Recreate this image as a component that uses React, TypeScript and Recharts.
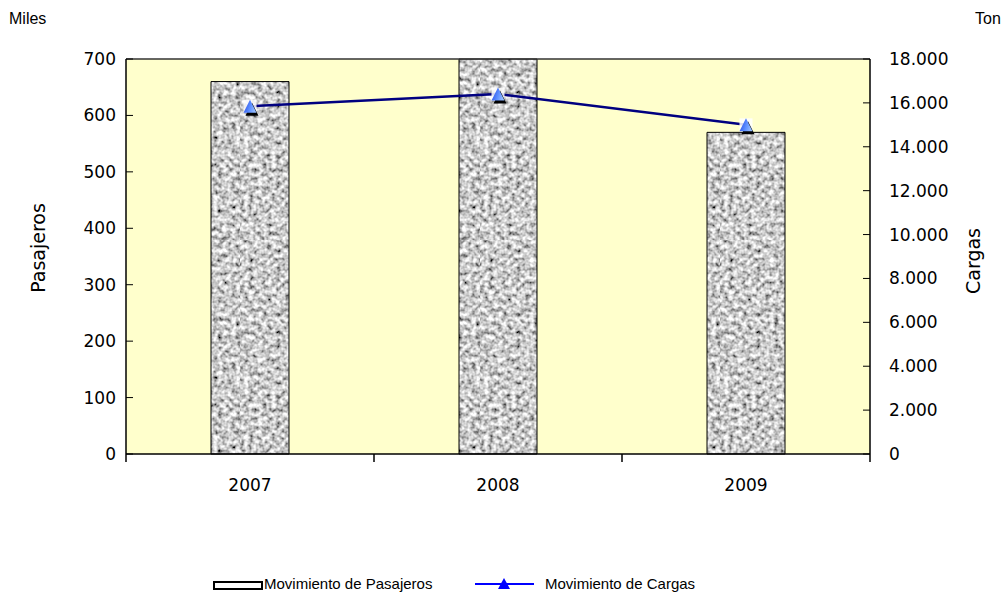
import React from 'react';
import { ComposedChart, Bar, Line, XAxis, YAxis, CartesianGrid, ReferenceLine, Legend } from 'recharts';

const years = ['2007', '2008', '2009'];
const pasajeros = [660, 700, 570];
const cargas = [15850, 16400, 15000];
const leftTicks = [0, 100, 200, 300, 400, 500, 600, 700];
const rightTicks = [0, 2000, 4000, 6000, 8000, 10000, 12000, 14000, 16000, 18000];

const data = years.map((y, i) => ({ year: y, pasajeros: pasajeros[i], cargas: cargas[i] }));

const FONT = '"DejaVu Sans", Verdana, sans-serif';
const LFONT = '"Liberation Sans", Arial, sans-serif';

const fmtThousands = (v: number) => (v === 0 ? '0' : v.toLocaleString('de-DE'));

const XTick = (props: any) => {
  const { x, y, payload, index, width, visibleTicksCount } = props;
  const n = visibleTicksCount || 3;
  const half = width ? width / (2 * n) : 124;
  return (
    <g>
      <line x1={x - half} x2={x - half} y1={y} y2={y + 8} stroke="#000" strokeWidth={1.5} />
      {index === n - 1 && <line x1={x + half} x2={x + half} y1={y} y2={y + 8} stroke="#000" strokeWidth={1.5} />}
      <text x={x} y={y + 37} textAnchor="middle" fontFamily={FONT} fontSize={17} fill="#000">
        {payload.value}
      </text>
    </g>
  );
};

const TriDot = (props: any) => {
  const { cx, cy, index } = props;
  if (cx == null || cy == null) return null;
  const s = 6.5;
  const tri = (dx: number, dy: number) =>
    `${cx + dx},${cy - s + dy} ${cx + s + dx},${cy + s + dy} ${cx - s + dx},${cy + s + dy}`;
  return (
    <g key={`dot-${index}`}>
      <rect x={cx - s} y={cy - s} width={2 * s} height={2 * s} fill="#fff" opacity={0.85} />
      <polygon points={tri(2, 3)} fill="#000" />
      <polygon points={tri(0, 0)} fill="url(#triGrad)" />
    </g>
  );
};

const LegendContent = () => (
  <div style={{ position: 'relative', width: 1004, height: 20, fontFamily: LFONT, fontSize: 15, color: '#000' }}>
    <div style={{ position: 'absolute', left: 213, top: 7, width: 46, height: 5, border: '2px solid #000', background: '#fff' }} />
    <div style={{ position: 'absolute', left: 264, top: 1, lineHeight: '18px' }}>Movimiento de Pasajeros</div>
    <svg style={{ position: 'absolute', left: 474, top: 1 }} width={62} height={18}>
      <line x1={1} x2={60} y1={9} y2={9} stroke="#0000FF" strokeWidth={2} />
      <polygon points="30,3 36,14 24,14" fill="#0000FF" />
    </svg>
    <div style={{ position: 'absolute', left: 545, top: 1, lineHeight: '18px' }}>Movimiento de Cargas</div>
  </div>
);

export default function App() {
  return (
    <div style={{ position: 'absolute', left: 0, top: 0, width: 1004, height: 593, background: '#fff' }}>
      <div style={{ position: 'absolute', left: 9, top: 10, fontFamily: LFONT, fontSize: 16 }}>Miles</div>
      <div style={{ position: 'absolute', left: 975, top: 10, fontFamily: LFONT, fontSize: 16 }}>Ton</div>
      <ComposedChart
        width={1004}
        height={593}
        data={data}
        margin={{ top: 59, right: 40, bottom: 79, left: 20 }}
        barCategoryGap={0}
      >
        <defs>
          <filter id="noiseF" x="0" y="0" width="100%" height="100%">
            <feTurbulence type="fractalNoise" baseFrequency="0.22" numOctaves="2" seed="11" result="n" />
            <feColorMatrix
              in="n"
              type="matrix"
              values="1.7 0 0 0 -0.25  1.7 0 0 0 -0.25  1.7 0 0 0 -0.25  0 0 0 0 1"
            />
          </filter>
          <pattern id="granite" patternUnits="userSpaceOnUse" width="240" height="240">
            <rect width="240" height="240" fill="#aaa" filter="url(#noiseF)" />
          </pattern>
          <linearGradient id="triGrad" x1="0" y1="0" x2="1" y2="0.3">
            <stop offset="0" stopColor="#1E3FE0" />
            <stop offset="0.6" stopColor="#5A8CFF" />
            <stop offset="1" stopColor="#8FB8FF" />
          </linearGradient>
        </defs>
        <CartesianGrid horizontal={false} vertical={false} fill="#FFFFCC" />
        <XAxis
          dataKey="year"
          xAxisId="x"
          axisLine={{ stroke: '#000', strokeWidth: 1.5 }}
          tickLine={false}
          tickSize={0}
          tickMargin={0}
          tick={<XTick />}
          interval={0}
          height={40}
        />
        <YAxis
          yAxisId="left"
          domain={[0, 700]}
          ticks={leftTicks}
          width={106}
          axisLine={{ stroke: '#000', strokeWidth: 1.5 }}
          tickLine={{ stroke: '#000', strokeWidth: 1 }}
          tickSize={-7}
          tickMargin={17}
          tick={{ fontFamily: FONT, fontSize: 17, fill: '#000' }}
          interval={0}
          label={{
            content: () => (
              <text x={38} y={248} transform="rotate(-90, 38, 248)" textAnchor="middle" dominantBaseline="central" fontFamily={FONT} fontSize={19} fill="#000">
                Pasajeros
              </text>
            ),
          }}
        />
        <YAxis
          yAxisId="right"
          orientation="right"
          domain={[0, 18000]}
          ticks={rightTicks}
          width={94}
          axisLine={{ stroke: '#000', strokeWidth: 1.5 }}
          tickLine={{ stroke: '#000', strokeWidth: 1 }}
          tickSize={-7}
          tickMargin={26}
          tickFormatter={fmtThousands}
          tick={{ fontFamily: FONT, fontSize: 17, fill: '#000' }}
          interval={0}
          label={{
            content: () => (
              <text x={973} y={261} transform="rotate(-90, 973, 261)" textAnchor="middle" dominantBaseline="central" fontFamily={FONT} fontSize={19} fill="#000">
                Cargas
              </text>
            ),
          }}
        />
        <ReferenceLine yAxisId="left" xAxisId="x" y={700} stroke="#333" strokeWidth={1.5} />
        <Bar
          dataKey="pasajeros"
          xAxisId="x"
          yAxisId="left"
          barSize={78}
          fill="url(#granite)"
          stroke="#000"
          strokeWidth={1}
          isAnimationActive={false}
          legendType="rect"
        />
        <Line
          dataKey="cargas"
          xAxisId="x"
          yAxisId="right"
          stroke="#000080"
          strokeWidth={2.5}
          dot={<TriDot />}
          activeDot={false}
          isAnimationActive={false}
        />
        <Legend verticalAlign="bottom" content={<LegendContent />} wrapperStyle={{ position: 'absolute', left: 0, top: 574, width: 1004 }} />
      </ComposedChart>
    </div>
  );
}
